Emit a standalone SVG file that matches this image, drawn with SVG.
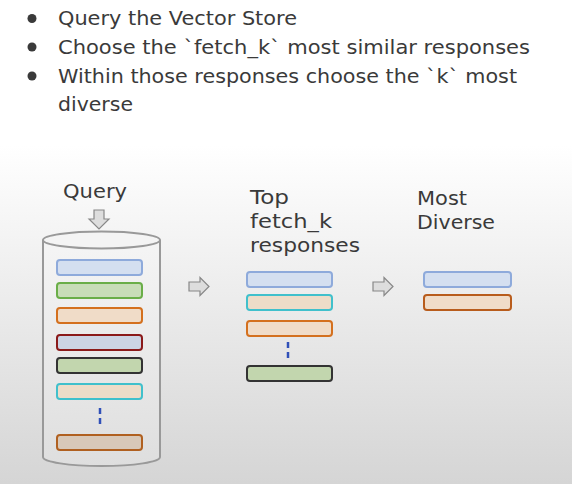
<svg xmlns="http://www.w3.org/2000/svg" width="572" height="484" viewBox="0 0 572 484">
<defs>
<linearGradient id="bg" x1="0" y1="0" x2="0" y2="484" gradientUnits="userSpaceOnUse">
<stop offset="0" stop-color="#ffffff"/>
<stop offset="0.3" stop-color="#ffffff"/>
<stop offset="1" stop-color="#d5d5d5"/>
</linearGradient>
<linearGradient id="cyl" x1="0" y1="230" x2="0" y2="466" gradientUnits="userSpaceOnUse">
<stop offset="0" stop-color="#f6f6f6"/>
<stop offset="1" stop-color="#dedede"/>
</linearGradient>
</defs>
<style>
.t{font-family:"DejaVu Sans","Liberation Sans",sans-serif;font-size:19.5px;fill:#3a3a3a}
.bar{stroke-width:2}
.blue{fill:#d4dff0;stroke:#8eaadb}
.green{fill:#c8ddb8;stroke:#6aae48}
.orange{fill:#f0dcc8;stroke:#d4701e}
.red{fill:#ccd4e4;stroke:#8b1a1a}
.black{fill:#c2d6ae;stroke:#333333}
.cyan{fill:#eddcc8;stroke:#40c0cc}
.brown{fill:#d8c8b8;stroke:#b06020}
.dash{stroke:#3050b8;stroke-width:2.5;stroke-dasharray:6,4}
.arr{fill:#dddddd;stroke:#888888;stroke-width:1.2}
</style>
<rect width="572" height="484" fill="url(#bg)"/>
<g id="bullets">
<circle cx="32" cy="18.5" r="4.5" fill="#3a3a3a"/>
<circle cx="32" cy="47" r="4.5" fill="#3a3a3a"/>
<circle cx="32" cy="76" r="4.5" fill="#3a3a3a"/>
<text class="t" x="58" y="25" textLength="239" lengthAdjust="spacingAndGlyphs">Query the Vector Store</text>
<text class="t" x="58" y="54" textLength="472" lengthAdjust="spacingAndGlyphs">Choose the `fetch_k` most similar responses</text>
<text class="t" x="58" y="83" textLength="459" lengthAdjust="spacingAndGlyphs">Within those responses choose the `k` most</text>
<text class="t" x="58" y="111" textLength="75" lengthAdjust="spacingAndGlyphs">diverse</text>
</g>
<g id="vector-store">
<text class="t" x="63" y="198" textLength="64" lengthAdjust="spacingAndGlyphs">Query</text>
<path class="arr" d="M94,210 H104 V219 H109 L99,229 L89,219 H94 Z"/>
<path d="M43,240 V457 A58.5,9 0 0 0 160,457 V240" fill="url(#cyl)" stroke="#999" stroke-width="2"/>
<ellipse cx="101.5" cy="240" rx="58.5" ry="8.5" fill="#f4f4f4" stroke="#999" stroke-width="2"/>
<rect class="bar blue" x="57" y="260" width="85" height="15" rx="3"/>
<rect class="bar green" x="57" y="283" width="85" height="15" rx="3"/>
<rect class="bar orange" x="57" y="308" width="85" height="15" rx="3"/>
<rect class="bar red" x="57" y="335" width="85" height="15" rx="3"/>
<rect class="bar black" x="57" y="358" width="85" height="15" rx="3"/>
<rect class="bar cyan" x="57" y="384" width="85" height="15" rx="3"/>
<line class="dash" x1="100" y1="408" x2="100" y2="427"/>
<rect class="bar brown" x="57" y="435" width="85" height="15" rx="3"/>
</g>
<g id="top-fetch-k">
<text class="t" x="250" y="204" textLength="39" lengthAdjust="spacingAndGlyphs">Top</text>
<text class="t" x="250" y="228" textLength="82" lengthAdjust="spacingAndGlyphs">fetch_k</text>
<text class="t" x="250" y="252" textLength="110" lengthAdjust="spacingAndGlyphs">responses</text>
<rect class="bar blue" x="247" y="272" width="85" height="15" rx="3"/>
<rect class="bar cyan" x="247" y="295" width="85" height="15" rx="3"/>
<rect class="bar orange" x="247" y="321" width="85" height="15" rx="3"/>
<line class="dash" x1="288" y1="342" x2="288" y2="359"/>
<rect class="bar black" x="247" y="366" width="85" height="15" rx="3"/>
</g>
<g id="most-diverse">
<text class="t" x="417" y="205" textLength="50" lengthAdjust="spacingAndGlyphs">Most</text>
<text class="t" x="417" y="229" textLength="78" lengthAdjust="spacingAndGlyphs">Diverse</text>
<rect class="bar blue" x="424" y="272" width="87" height="15" rx="3"/>
<rect class="bar orange" x="424" y="295" width="87" height="15" rx="3" style="stroke:#b85c1c"/>
</g>
<g id="connectors">
<path class="arr" d="M189,282 H200 V277.5 L209,286.5 L200,295.5 V291 H189 Z"/>
<path class="arr" d="M373,282 H384 V277.5 L393,286.5 L384,295.5 V291 H373 Z"/>
</g>
</svg>
